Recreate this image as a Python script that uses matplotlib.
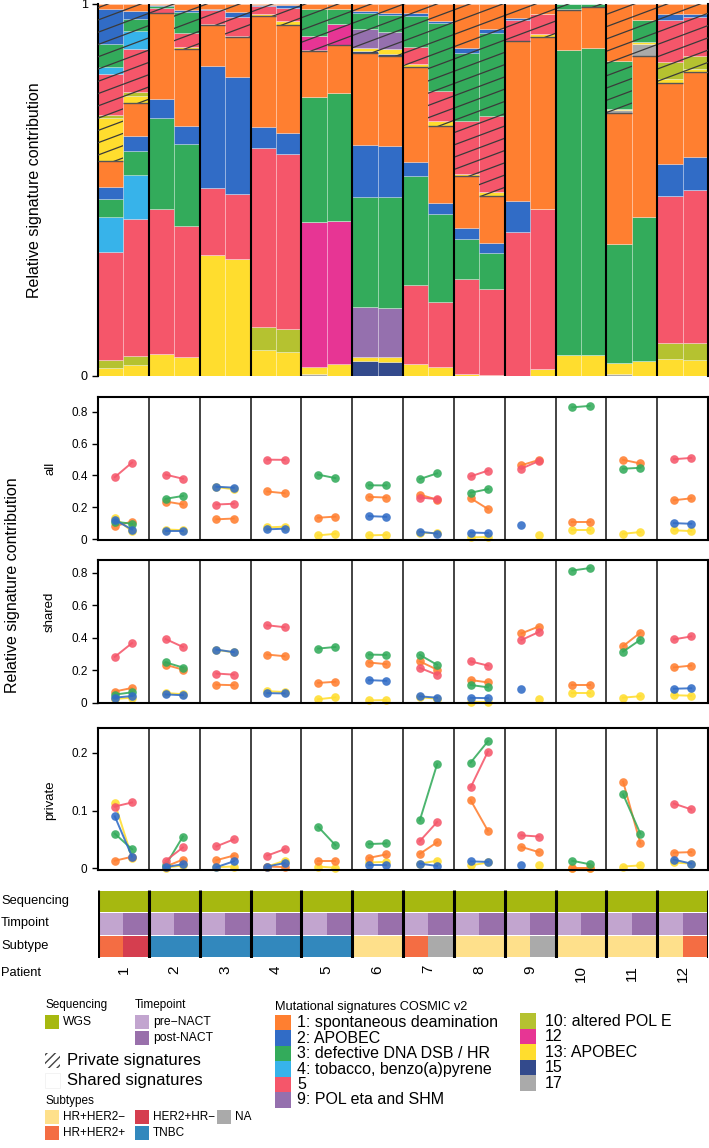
import numpy as np
import matplotlib.pyplot as plt
from matplotlib.patches import Rectangle, PathPatch
from matplotlib.path import Path
from matplotlib.collections import LineCollection

plt.rcParams['font.family'] = ['Liberation Sans', 'DejaVu Sans']

patients = ['1', '2', '3', '4', '5', '6', '7', '8', '9', '10', '11', '12']
timepoints = ['pre-NACT', 'post-NACT']

signatures = ['1', '2', '3', '4', '5', '9', '10', '12', '13', '15', '17']
sig_labels = {'1': '1: spontaneous deamination', '2': '2: APOBEC',
              '3': '3: defective DNA DSB / HR', '4': '4: tobacco, benzo(a)pyrene',
              '5': '5', '9': '9: POL eta and SHM', '10': '10: altered POL E',
              '12': '12', '13': '13: APOBEC', '15': '15', '17': '17'}
sig_colors = {'1': '#FF7F30', '2': '#316CC6', '3': '#33AB5B', '4': '#37B3EA',
              '5': '#F5566A', '9': '#9570AE', '10': '#B5C230', '12': '#E73594',
              '13': '#FFDD2E', '15': '#334A8C', '17': '#AAAAAA'}

# samples: patient 1 pre, patient 1 post, patient 2 pre, ...
shared = {
    '1':  [0.068, 0.090, 0.233, 0.203, 0.110, 0.107, 0.296, 0.286, 0.121, 0.128, 0.247, 0.237,
           0.254, 0.203, 0.139, 0.124, 0.427, 0.469, 0.109, 0.109, 0.348, 0.432, 0.217, 0.228],
    '2':  [0.030, 0.040, 0.050, 0.045, 0.327, 0.311, 0.058, 0.056, 0, 0, 0.138, 0.134,
           0.038, 0.030, 0.029, 0.027, 0.082, 0, 0, 0, 0, 0, 0.085, 0.088],
    '3':  [0.049, 0.063, 0.248, 0.216, 0, 0, 0, 0, 0.333, 0.343, 0.296, 0.294,
           0.294, 0.233, 0.108, 0.094, 0, 0, 0.815, 0.830, 0.314, 0.388, 0, 0],
    '4':  [0.090, 0.119, 0, 0, 0, 0, 0, 0, 0, 0, 0, 0,
           0, 0, 0, 0, 0, 0, 0, 0, 0, 0, 0, 0],
    '5':  [0.282, 0.367, 0.392, 0.343, 0.179, 0.172, 0.477, 0.465, 0, 0, 0, 0,
           0.214, 0.171, 0.254, 0.228, 0.386, 0.435, 0, 0, 0, 0, 0.390, 0.408],
    '9':  [0, 0, 0, 0, 0, 0, 0, 0, 0, 0, 0.132, 0.128,
           0, 0, 0, 0, 0, 0, 0, 0, 0, 0, 0, 0],
    '10': [0.019, 0.024, 0, 0, 0, 0, 0.061, 0.060, 0, 0, 0, 0,
           0, 0, 0, 0, 0, 0, 0, 0, 0, 0, 0.043, 0.046],
    '12': [0, 0, 0, 0, 0, 0, 0, 0, 0.385, 0.384, 0, 0,
           0, 0, 0, 0, 0, 0, 0, 0, 0, 0, 0, 0],
    '13': [0.022, 0.030, 0.059, 0.051, 0.325, 0.310, 0.070, 0.065, 0.020, 0.032, 0.013, 0.015,
           0.032, 0.024, 0.005, 0.003, 0, 0.020, 0.056, 0.056, 0.030, 0.039, 0.045, 0.042],
    '15': [0, 0, 0, 0, 0, 0, 0, 0, 0, 0, 0.039, 0.036,
           0, 0, 0, 0, 0, 0, 0, 0, 0, 0, 0, 0],
    '17': [0, 0, 0, 0, 0, 0, 0, 0, 0.005, 0, 0, 0,
           0, 0, 0, 0, 0, 0, 0, 0, 0.005, 0, 0, 0],
}
private = {
    '1':  [0.013, 0.020, 0.003, 0.015, 0.014, 0.022, 0.003, 0.002, 0.013, 0.013, 0.018, 0.024,
           0.025, 0.045, 0.118, 0.065, 0.037, 0.028, 0.001, 0.001, 0.150, 0.043, 0.027, 0.028],
    '2':  [0.090, 0.020, 0.002, 0.007, 0.002, 0.012, 0.003, 0.009, 0, 0, 0.006, 0.006,
           0.008, 0.004, 0.012, 0.011, 0.005, 0, 0, 0, 0, 0, 0.015, 0.008],
    '3':  [0.060, 0.033, 0.005, 0.055, 0, 0, 0, 0, 0.072, 0.040, 0.042, 0.043,
           0.083, 0.180, 0.183, 0.220, 0, 0, 0.013, 0.007, 0.128, 0.060, 0, 0],
    '4':  [0.020, 0.049, 0, 0, 0, 0, 0, 0, 0, 0, 0, 0,
           0, 0, 0, 0, 0, 0, 0, 0, 0, 0, 0, 0],
    '5':  [0.107, 0.114, 0.013, 0.036, 0.038, 0.050, 0.022, 0.033, 0, 0, 0, 0,
           0.047, 0.080, 0.140, 0.202, 0.057, 0.055, 0, 0, 0, 0, 0.112, 0.102],
    '9':  [0, 0, 0, 0, 0, 0, 0, 0, 0, 0, 0.051, 0.047,
           0, 0, 0, 0, 0, 0, 0, 0, 0, 0, 0, 0],
    '10': [0.006, 0.011, 0, 0, 0, 0, 0, 0, 0, 0, 0, 0,
           0, 0, 0, 0, 0, 0, 0, 0, 0, 0, 0.045, 0.036],
    '12': [0, 0, 0, 0, 0, 0, 0, 0, 0.038, 0.056, 0, 0,
           0, 0, 0, 0, 0, 0, 0, 0, 0, 0, 0, 0],
    '13': [0.113, 0.018, 0.001, 0.005, 0.002, 0.003, 0.003, 0.013, 0.003, 0.001, 0.010, 0.011,
           0.008, 0.013, 0.005, 0.010, 0, 0.006, 0.001, 0.001, 0.003, 0.005, 0.010, 0.008],
    '15': [0, 0, 0, 0, 0, 0, 0, 0, 0, 0, 0.004, 0.007,
           0, 0, 0, 0, 0, 0, 0, 0, 0, 0, 0, 0],
    '17': [0, 0, 0, 0, 0, 0, 0, 0, 0, 0, 0, 0,
           0, 0, 0, 0, 0, 0, 0, 0, 0.009, 0.033, 0, 0],
}

subtype = ['HR+HER2+', 'HER2+HR-', 'TNBC', 'TNBC', 'TNBC', 'TNBC', 'TNBC', 'TNBC',
           'TNBC', 'TNBC', 'HR+HER2-', 'HR+HER2-', 'HR+HER2+', 'NA', 'HR+HER2-', 'HR+HER2-',
           'HR+HER2-', 'NA', 'HR+HER2-', 'HR+HER2-', 'HR+HER2-', 'HR+HER2-', 'HR+HER2-', 'HR+HER2+']
sequencing = ['WGS'] * 24

subtype_colors = {'HR+HER2-': '#FEE08B', 'HR+HER2+': '#F46D43', 'HER2+HR-': '#D53E4F',
                  'TNBC': '#3288BD', 'NA': '#AAAAAA'}
subtype_names = {'HR+HER2-': 'HR+HER2\u2212', 'HR+HER2+': 'HR+HER2+',
                 'HER2+HR-': 'HER2+HR\u2212', 'TNBC': 'TNBC', 'NA': 'NA'}
time_colors = {'pre-NACT': '#C2A5CF', 'post-NACT': '#9970AB'}
seq_colors = {'WGS': '#A6B810'}

W, H = 709, 1148
fig = plt.figure(figsize=(W / 100, H / 100), dpi=100)


def rect(x0, y0, x1, y1):
    return [x0 / W, 1 - y1 / H, (x1 - x0) / W, (y1 - y0) / H]


n = len(patients) * 2
x = np.arange(n)
sh = {s: np.array(shared[s], float) for s in signatures}
pr = {s: np.array(private[s], float) for s in signatures}
total = sum(sh[s] + pr[s] for s in signatures)

# ---- stacked bars: shared at the bottom, private (hatched) on top
ax = fig.add_axes(rect(98, 4, 708, 376))
stack = signatures[::-1]
bottom = np.zeros(n)
for s in stack:
    h = sh[s] / total
    ax.bar(x, h, bottom=bottom, width=1, color=sig_colors[s],
           edgecolor=(1, 1, 1, 0.3), linewidth=0.6)
    bottom += h
shared_top = bottom.copy()
for s in stack:
    h = pr[s] / total
    ax.bar(x, h, bottom=bottom, width=1, color=sig_colors[s],
           edgecolor=(1, 1, 1, 0.3), linewidth=0.6)
    bottom += h

verts, codes = [], []
for i in range(n):
    y0 = shared_top[i]
    verts += [(i - 0.5, y0), (i + 0.5, y0), (i + 0.5, 1), (i - 0.5, 1), (i - 0.5, y0)]
    codes += [Path.MOVETO, Path.LINETO, Path.LINETO, Path.LINETO, Path.CLOSEPOLY]
clip = PathPatch(Path(verts, codes), transform=ax.transData, facecolor='none', edgecolor='none')
ax.add_patch(clip)
slope = 0.0255
segs = [[(-0.5, o), (n - 0.5, o + slope * n)] for o in np.arange(-0.66, 1.0, 0.033)]
lc = LineCollection(segs, colors='#3a3a3a', linewidths=0.9, zorder=3)
ax.add_collection(lc)
lc.set_clip_path(clip)
ax.hlines(shared_top, x - 0.5, x + 0.5, color='#555555', lw=1.0, zorder=3)
ax.vlines(np.arange(1.5, n - 1, 2), 0, 1, color='black', lw=1.5, zorder=4)
ax.set_xlim(-0.5, n - 0.5)
ax.set_ylim(0, 1)
ax.set_xticks([])
ax.set_yticks([0, 1])
ax.set_yticklabels(['0', '1'])
ax.tick_params(axis='y', length=4, width=1, labelsize=9)
for side in ['top', 'bottom']:
    ax.spines[side].set_visible(False)
ax.spines['left'].set_linewidth(1.5)
ax.spines['right'].set_linewidth(1.5)
fig.text(35 / W, 1 - 190 / H, 'Relative signature contribution', rotation=90,
         ha='center', va='center', fontsize=11.5)

# ---- dot panels
dot_sigs = ['13', '1', '3', '5', '2']
panels = [
    ('all', {s: sh[s] + pr[s] for s in dot_sigs}, (397, 540), (-0.006, 0.893),
     [0, 0.2, 0.4, 0.6, 0.8], ['0', '0.2', '0.4', '0.6', '0.8'], 468),
    ('shared', sh, (560, 703), (-0.003, 0.88),
     [0, 0.2, 0.4, 0.6, 0.8], ['0', '0.2', '0.4', '0.6', '0.8'], 612),
    ('private', pr, (728, 870), (-0.003, 0.243),
     [0, 0.1, 0.2], ['0', '0.1', '0.2'], 800),
]
for name, vals, (ytop, ybot), ylim, ticks, labels, ylab in panels:
    ax = fig.add_axes(rect(98, ytop, 708, ybot))
    for s in dot_sigs:
        v = vals[s].reshape(-1, 2)
        for p in range(len(patients)):
            xs = np.array([p + 0.33, p + 0.67])
            keep = v[p] > 0
            ax.plot(xs[keep], v[p][keep], '-o', color=sig_colors[s], lw=1.4, ms=6.2,
                    mec='none', alpha=0.88, clip_on=False)
    ax.vlines(np.arange(1, len(patients)), ylim[0], ylim[1], color='#222222', lw=1.2)
    ax.set_xlim(0, len(patients))
    ax.set_ylim(*ylim)
    ax.set_xticks([])
    ax.set_yticks(ticks)
    ax.set_yticklabels(labels)
    ax.tick_params(axis='y', length=4, width=1, labelsize=8.5)
    for sp in ax.spines.values():
        sp.set_linewidth(1.5)
    fig.text(50 / W, 1 - ylab / H, name, rotation=90, ha='center', va='center', fontsize=9.5)
fig.text(13 / W, 1 - 585 / H, 'Relative signature contribution', rotation=90,
         ha='center', va='center', fontsize=11.5)

# ---- annotation rows
ax = fig.add_axes(rect(98, 890, 708, 958))
rows = [[seq_colors[v] for v in sequencing],
        [time_colors[timepoints[i % 2]] for i in range(n)],
        [subtype_colors[v] for v in subtype]]
for r, cols in enumerate(rows):
    ax.bar(x, 0.93, bottom=r + 0.035, width=1, color=cols)
ax.vlines(np.arange(-0.5, n, 2), 0, 3, color='black', lw=2.2)
ax.set_xlim(-0.5, n - 0.5)
ax.set_ylim(3, 0)
ax.axis('off')
for lab, yc in [('Sequencing', 901), ('Timpoint', 923), ('Subtype', 946), ('Patient', 973)]:
    fig.text(1 / W, 1 - yc / H, lab, ha='left', va='center', fontsize=9.3)
colw = 610 / len(patients)
for p, lab in enumerate(patients):
    fig.text((98 + colw * (p + 0.5)) / W, 1 - 965 / H, lab, rotation=90,
             ha='center', va='top', fontsize=11)

# ---- legends
lg = fig.add_axes([0, 0, 1, 1])
lg.set_xlim(0, W)
lg.set_ylim(H, 0)
lg.axis('off')


def key(x0, yc, color, text, size=14, fs=8.7, tx=None, **kw):
    lg.add_patch(Rectangle((x0, yc - size / 2), size, size, facecolor=color, **kw))
    if text:
        lg.text(tx if tx is not None else x0 + size + 4, yc, text, va='center', ha='left', fontsize=fs)


lg.text(45, 1005, 'Sequencing', va='center', fontsize=8.5)
key(45, 1022, seq_colors['WGS'], 'WGS')
lg.text(135, 1005, 'Timepoint', va='center', fontsize=8.5)
key(135, 1022, time_colors['pre-NACT'], 'pre\u2212NACT')
key(135, 1038, time_colors['post-NACT'], 'post-NACT')

key(45, 1060, 'white', 'Private signatures', size=15, fs=12, tx=67,
    hatch='////', edgecolor='#444444', linewidth=0)
key(45, 1080, 'white', 'Shared signatures', size=15, fs=12, tx=67,
    edgecolor='#eeeeee', linewidth=0.5)

lg.text(45, 1101, 'Subtypes', va='center', fontsize=8.5)
key(45, 1117, subtype_colors['HR+HER2-'], subtype_names['HR+HER2-'], fs=8.5)
key(45, 1133, subtype_colors['HR+HER2+'], subtype_names['HR+HER2+'], fs=8.5)
key(135, 1117, subtype_colors['HER2+HR-'], subtype_names['HER2+HR-'], fs=8.5)
key(135, 1133, subtype_colors['TNBC'], subtype_names['TNBC'], fs=8.5)
key(217, 1117, subtype_colors['NA'], subtype_names['NA'], fs=8.5)

lg.text(275, 1007, 'Mutational signatures COSMIC v2', va='center', fontsize=9.2)
col1 = ['1', '2', '3', '4', '5', '9']
col2 = ['10', '12', '13', '15', '17']
for k, s in enumerate(col1):
    key(275, 1023 + k * 15.4, sig_colors[s], sig_labels[s], size=16, fs=11.5, tx=297)
for k, s in enumerate(col2):
    key(520, 1021 + k * 15.6, sig_colors[s], sig_labels[s], size=16, fs=11.5, tx=545)

fig.savefig('out.png', dpi=100)
